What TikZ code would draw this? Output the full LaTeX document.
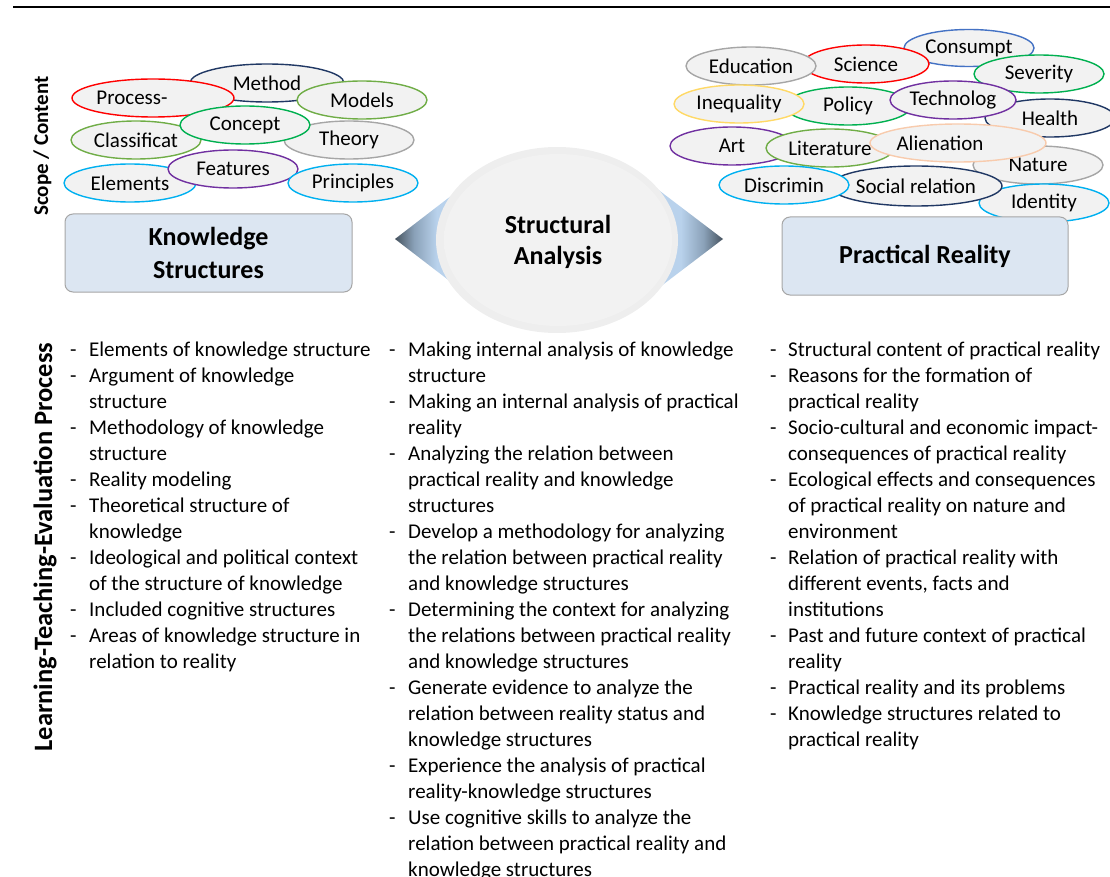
\documentclass[tikz,border=0pt]{standalone}
\usepackage{fontspec}
\setmainfont{Carlito}
\usetikzlibrary{shapes.geometric}
\definecolor{cnavy}{HTML}{203864}
\definecolor{cred}{HTML}{FF0000}
\definecolor{clgreen}{HTML}{70AD47}
\definecolor{cgreen}{HTML}{00B050}
\definecolor{cgray}{HTML}{A6A6A6}
\definecolor{cpurple}{HTML}{7030A0}
\definecolor{ccyan}{HTML}{00B0F0}
\definecolor{cblue}{HTML}{4472C4}
\definecolor{cyellow}{HTML}{FFD966}
\definecolor{cpeach}{HTML}{F8CBAD}
\definecolor{ellfill}{HTML}{F2F2F2}
\definecolor{boxfill}{HTML}{DCE6F2}
\definecolor{boxline}{HTML}{A6A6A6}
\definecolor{dlight}{HTML}{B9D2EC}
\definecolor{dmid}{HTML}{8AA1B8}
\definecolor{ddark}{HTML}{46535F}
\definecolor{ringc}{HTML}{EEEEEE}
\definecolor{ballc}{HTML}{F2F2F2}
\definecolor{balle}{HTML}{B8B8B8}
\pgfdeclarehorizontalshading{wedgeshade}{100bp}{color(0bp)=(ddark); color(25bp)=(ddark); color(35bp)=(dmid); color(47bp)=(dlight); color(100bp)=(dlight)}
\pgfdeclareradialshading{ballshade}{\pgfpoint{0bp}{0bp}}{color(0bp)=(ballc); color(40bp)=(ballc); color(46bp)=(ballc!85!balle); color(50bp)=(balle)}
\begin{document}
\begin{tikzpicture}[x=1pt,y=-1pt,
  ell/.style={ellipse, draw=#1, fill=ellfill, line width=1.4pt, inner sep=0pt,
    font=\fontsize{21}{25}\selectfont},
  sz/.style 2 args={minimum width=#1pt, minimum height=#2pt},
  mainbox/.style={draw=boxline, fill=boxfill, line width=1pt, rounded corners=8pt,
    align=center, font=\bfseries\fontsize{26}{33}\selectfont},
  vlabel/.style={rotate=90, anchor=base},
  column/.style={anchor=north west, inner sep=0pt, font=\fontsize{21}{26}\selectfont}]
\useasboundingbox (0,0) rectangle (1110,877);
% top rule
\coordinate (ruleL) at (13,7);
\coordinate (ruleR) at (1110,7);
\draw[line width=2.5pt] (ruleL) -- (ruleR);

% vertical labels
\node[vlabel, font=\bfseries\fontsize{21}{25}\selectfont] (scope) at (48,146) {Scope / Content};
\node[vlabel, font=\bfseries\fontsize{26.5}{30}\selectfont] (ltep) at (52,547) {Learning-Teaching-Evaluation Process};

% left ellipses
\node[ell=cnavy, sz={154}{38}] (method) at (267,83) {Method};
\node[ell=cred, sz={162}{38}] (process) at (153,98) {Process-\hspace*{42pt}};
\node[ell=clgreen, sz={130}{38}] (models) at (362,100) {Models};
\node[ell=cgray, sz={130}{38}] (theory) at (349,140) {Theory};
\node[ell=clgreen, sz={130}{38}] (classif) at (136,140) {Classificat};
\node[ell=cgreen, sz={130}{38}] (concept) at (245,125) {Concept};
\node[ell=ccyan, sz={132}{38}] (elements) at (130,183) {Elements};
\node[ell=cpurple, sz={130}{38}] (features) at (233,169) {Features};
\node[ell=ccyan, sz={130}{38}] (principles) at (353,183) {Principles};

% right ellipses
\node[ell=cblue, sz={130}{37}] (consumpt) at (969,48) {Consumpt};
\node[ell=cred, sz={126}{38}] (science) at (866,64) {Science};
\node[ell=cgray, sz={130}{38}] (education) at (751,66) {Education};
\node[ell=cgreen, sz={130}{38}] (severity) at (1039,74) {Severity};
\node[ell=cnavy, sz={130}{38}] (health) at (1050,118) {Health};
\node[ell=cgreen, sz={126}{38}] (policy) at (848,106) {Policy};
\node[ell=cpurple, sz={126}{38}] (technolog) at (953,100) {Technolog};
\node[ell=cyellow, sz={130}{38}] (inequality) at (739,104) {Inequality};
\node[ell=cgray, sz={130}{38}] (nature) at (1038,165) {Nature};
\node[ell=cpurple, sz={124}{38}] (art) at (732,146) {Art};
\node[ell=clgreen, sz={128}{38}] (literature) at (830,148) {Literature};
\node[ell=cpeach, sz={176}{38}] (alienation) at (958,143) {Alienation\hspace*{36pt}};
\node[ell=ccyan, sz={130}{38}] (identity) at (1044,203) {Identity};
\node[ell=cnavy, sz={172}{40}] (social) at (916,186) {Social relation};
\node[ell=ccyan, sz={130}{38}] (discrimin) at (784,185) {Discrimin};

% boxes
\node[mainbox, sz={287}{78}] (ks) at (208.5,253) {Knowledge\\Structures};
\node[mainbox, sz={286}{78}] (pr) at (925,256) {Practical Reality};

% central shape: two wedges behind a ring and a ball
\shade[shading=wedgeshade] (395,239) -- (490,166) -- (490,312) -- cycle;
\shade[shading=wedgeshade, shading angle=180] (723,239) -- (627,166) -- (627,312) -- cycle;
\fill[ringc] (557,240) ellipse [x radius=121pt, y radius=93pt];
\shade[shading=ballshade] (558,240) ellipse [x radius=114pt, y radius=86pt];
\node[align=center, font=\bfseries\fontsize{26}{31}\selectfont] (sa) at (558,242) {Structural\\Analysis};

% text columns
\node[column] (colL) at (70,337.8) {\begin{tabular}{@{}p{19pt}@{}l@{}}
- & Elements of knowledge structure\\
- & Argument of knowledge\\
  & structure\\
- & Methodology of knowledge\\
  & structure\\
- & Reality modeling\\
- & Theoretical structure of\\
  & knowledge\\
- & Ideological and political context\\
  & of the structure of knowledge\\
- & Included cognitive structures\\
- & Areas of knowledge structure in\\
  & relation to reality
\end{tabular}};
\node[column] (colM) at (389,337.8) {\begin{tabular}{@{}p{19pt}@{}l@{}}
- & Making internal analysis of knowledge\\
  & structure\\
- & Making an internal analysis of practical\\
  & reality\\
- & Analyzing the relation between\\
  & practical reality and knowledge\\
  & structures\\
- & Develop a methodology for analyzing\\
  & the relation between practical reality\\
  & and knowledge structures\\
- & Determining the context for analyzing\\
  & the relations between practical reality\\
  & and knowledge structures\\
- & Generate evidence to analyze the\\
  & relation between reality status and\\
  & knowledge structures\\
- & Experience the analysis of practical\\
  & reality-knowledge structures\\
- & Use cognitive skills to analyze the\\
  & relation between practical reality and\\
  & knowledge structures
\end{tabular}};
\node[column] (colR) at (770,337.8) {\begin{tabular}{@{}p{18pt}@{}l@{}}
- & Structural content of practical reality\\
- & Reasons for the formation of\\
  & practical reality\\
- & Socio-cultural and economic impact-\\
  & consequences of practical reality\\
- & Ecological effects and consequences\\
  & of practical reality on nature and\\
  & environment\\
- & Relation of practical reality with\\
  & different events, facts and\\
  & institutions\\
- & Past and future context of practical\\
  & reality\\
- & Practical reality and its problems\\
- & Knowledge structures related to\\
  & practical reality
\end{tabular}};
\end{tikzpicture}
\end{document}
